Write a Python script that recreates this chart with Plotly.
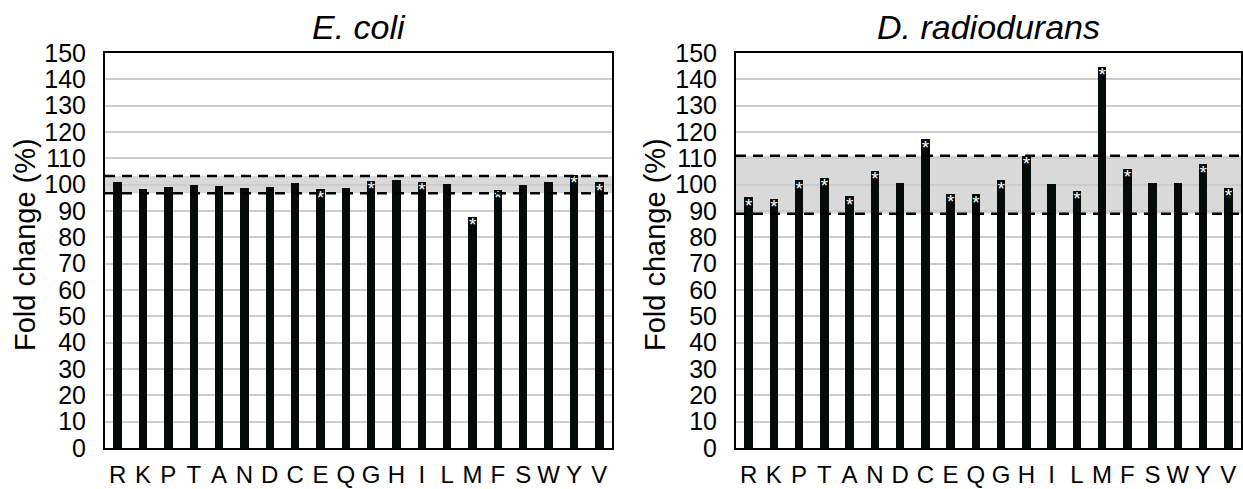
import plotly.graph_objects as go

categories = ["R", "K", "P", "T", "A", "N", "D", "C", "E", "Q",
              "G", "H", "I", "L", "M", "F", "S", "W", "Y", "V"]

ecoli_values = [101.1, 98.3, 99.2, 99.9, 99.5, 98.6, 99.0, 100.6, 98.2, 98.6,
                101.4, 101.6, 101.1, 100.1, 87.7, 98.1, 99.7, 100.9, 103.8, 100.9]
ecoli_sig = [False, False, False, False, False, False, False, False, True, False,
             True, False, True, False, True, True, False, False, True, True]
ecoli_band = [96.7, 103.3]

drad_values = [95.2, 94.5, 101.6, 102.5, 95.6, 105.3, 100.7, 117.2, 96.6, 96.3,
               101.6, 111.0, 100.2, 97.7, 144.6, 106.1, 100.7, 100.6, 107.7, 98.7]
drad_sig = [True, True, True, True, True, True, False, True, True, True,
            True, True, False, True, True, True, False, False, True, True]
drad_band = [89.0, 111.0]

titles = ["E. coli", "D. radiodurans"]
y_title = "Fold change (%)"
y_ticks = list(range(0, 151, 10))

W, H = 1243, 489
FONT = "Liberation Sans, Arial, sans-serif"

panels = [
    dict(vals=ecoli_values, sig=ecoli_sig, band=ecoli_band, x0=105, x1=612, title=titles[0], ytx=25),
    dict(vals=drad_values, sig=drad_sig, band=drad_band, x0=736, x1=1241, title=titles[1], ytx=655),
]
ytop, ybot = 53, 448
ydom = [1 - ybot / H, 1 - ytop / H]

fig = go.Figure()
shapes = []
annotations = []
for i, p in enumerate(panels):
    xa = "x" if i == 0 else "x2"
    ya = "y" if i == 0 else "y2"
    fig.add_trace(go.Bar(x=categories, y=p["vals"], xaxis=xa, yaxis=ya,
                         marker=dict(color="#060a0a", line=dict(width=0)),
                         width=0.33, showlegend=False))
    sx = [c for c, s in zip(categories, p["sig"]) if s]
    sy = [v for v, s in zip(p["vals"], p["sig"]) if s]
    fig.add_trace(go.Scatter(x=sx, y=sy, xaxis=xa, yaxis=ya, mode="text",
                             text=["*"] * len(sx), textposition="bottom center",
                             textfont=dict(color="white", size=19, family=FONT),
                             cliponaxis=False, showlegend=False))
    xref_dom = ("x" if i == 0 else "x2") + " domain"
    shapes.append(dict(type="rect", xref=xref_dom, yref=ya, x0=0, x1=1,
                       y0=p["band"][0], y1=p["band"][1], fillcolor="#d9d9d9",
                       line=dict(width=0), layer="below"))
    for b in p["band"]:
        shapes.append(dict(type="line", xref=xref_dom, yref=ya, x0=0, x1=1,
                           y0=b, y1=b, line=dict(color="black", width=2.5, dash="10px,7px"),
                           layer="above"))
    annotations.append(dict(text="<i>" + p["title"] + "</i>", xref="paper", yref="paper",
                            x=(p["x0"] + p["x1"]) / 2 / W, y=1 - 27 / H,
                            xanchor="center", yanchor="middle", showarrow=False,
                            font=dict(size=34, family=FONT, color="black")))
    annotations.append(dict(text=y_title, xref="paper", yref="paper",
                            x=p["ytx"] / W, y=1 - 245 / H, textangle=-90,
                            xanchor="center", yanchor="middle", showarrow=False,
                            font=dict(size=29, family=FONT, color="black")))

axis_common = dict(showline=True, linecolor="black", linewidth=2, mirror=True,
                   automargin=False, fixedrange=True)
for i, p in enumerate(panels):
    xkey = "xaxis" if i == 0 else "xaxis2"
    ykey = "yaxis" if i == 0 else "yaxis2"
    fig.update_layout(**{
        xkey: dict(domain=[p["x0"] / W, p["x1"] / W], anchor="y" if i == 0 else "y2",
                   type="category", categoryorder="array", categoryarray=categories,
                   tickmode="array", tickvals=categories, ticktext=categories, tickangle=0,
                   range=[-0.5, len(categories) - 0.5], showgrid=False,
                   ticks="outside", ticklen=4, tickcolor="rgba(0,0,0,0)",
                   tickfont=dict(size=24, family=FONT, color="black"), **axis_common),
        ykey: dict(domain=ydom, anchor="x" if i == 0 else "x2", range=[0, 150],
                   tickmode="array", tickvals=y_ticks, showgrid=True,
                   gridcolor="#cccccc", gridwidth=2, zeroline=False,
                   ticks="outside", ticklen=12, tickcolor="rgba(0,0,0,0)",
                   tickfont=dict(size=25, family=FONT, color="black"), **axis_common),
    })

fig.update_layout(width=W, height=H, margin=dict(l=0, r=0, t=0, b=0),
                  paper_bgcolor="white", plot_bgcolor="white",
                  shapes=shapes, annotations=annotations, bargap=0,
                  font=dict(family=FONT, color="black"))
fig.write_html("out.html", config={"displayModeBar": False},
               post_script="document.body.style.margin='0px';document.body.style.overflow='hidden';")
